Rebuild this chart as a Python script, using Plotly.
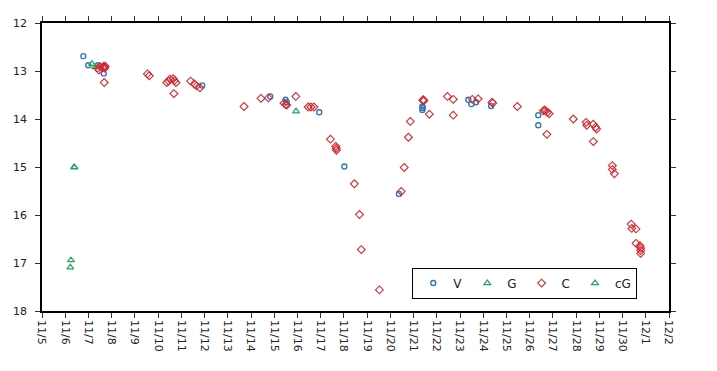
import plotly.graph_objects as go

# x = day of November (Dec 1 = 31), y = magnitude
v_x = [6.78, 6.99, 7.40, 7.66, 11.90, 14.83, 15.49, 15.54, 16.94, 18.02, 20.37,
       21.38, 21.38, 21.40, 23.36, 23.49, 23.69, 24.34, 26.37, 26.37]
v_y = [12.69, 12.88, 12.88, 13.05, 13.30, 13.53, 13.60, 13.65, 13.86, 14.99, 15.56,
       13.74, 13.81, 13.77, 13.60, 13.69, 13.65, 13.73, 13.92, 14.13]

g_x = [7.15, 7.28, 15.94]
g_y = [12.85, 12.92, 13.84]

c_x = [7.40, 7.45, 7.50, 7.62, 7.66, 7.68, 7.70, 7.72, 7.68,
       9.54, 9.62, 10.37, 10.45, 10.51, 10.65, 10.70, 10.77, 10.68,
       11.40, 11.56, 11.66, 11.80, 13.70, 14.43, 14.75, 15.42, 15.50, 15.54,
       15.93, 16.46, 16.58, 16.71, 17.42, 17.65, 17.67, 17.68,
       18.45, 18.67, 18.75, 19.53, 20.47, 20.60, 20.78, 20.86,
       21.40, 21.42, 21.44, 21.68, 22.46, 22.71, 22.71, 23.53, 23.78,
       24.38, 24.41, 25.47, 26.59, 26.64, 26.69, 26.76, 26.84, 26.74,
       27.88, 28.43, 28.46, 28.74, 28.84, 28.88, 28.74,
       29.56, 29.56, 29.65, 30.37, 30.40, 30.58, 30.58, 30.75, 30.78, 30.78, 30.78]
c_y = [12.94, 12.98, 12.91, 12.93, 12.90, 12.92, 12.94, 12.90, 13.24,
       13.06, 13.10, 13.24, 13.21, 13.17, 13.16, 13.20, 13.24, 13.47,
       13.21, 13.27, 13.31, 13.35, 13.74, 13.57, 13.56, 13.67, 13.70, 13.71,
       13.53, 13.75, 13.75, 13.75, 14.42, 14.57, 14.61, 14.65,
       15.35, 15.99, 16.72, 17.56, 15.51, 15.01, 14.38, 14.05,
       13.61, 13.60, 13.62, 13.90, 13.53, 13.59, 13.92, 13.59, 13.58,
       13.65, 13.67, 13.74, 13.83, 13.81, 13.83, 13.86, 13.89, 14.32,
       14.00, 14.07, 14.13, 14.11, 14.17, 14.21, 14.47,
       14.97, 15.05, 15.14, 16.19, 16.28, 16.29, 16.59, 16.64, 16.69, 16.74, 16.80]

cg_x = [6.38, 6.40, 6.25, 6.22]
cg_y = [15.00, 15.01, 16.94, 17.09]

tick_vals = list(range(5, 33))
tick_text = ["11/%d" % d for d in range(5, 31)] + ["12/1", "12/2"]

BLUE = "#2E78BC"
GREEN = "#1EA85F"
RED = "#D22B33"

fig = go.Figure()
fig.add_trace(go.Scatter(x=v_x, y=v_y, mode="markers", name="V",
                         marker=dict(symbol="circle-open", size=5, color=BLUE,
                                     line=dict(width=1.4, color=BLUE))))
fig.add_trace(go.Scatter(x=g_x, y=g_y, mode="markers", name="G",
                         marker=dict(symbol="triangle-up-open", size=6, color=GREEN,
                                     line=dict(width=1.2, color=GREEN))))
fig.add_trace(go.Scatter(x=c_x, y=c_y, mode="markers", name="C",
                         marker=dict(symbol="diamond-open", size=6, color=RED,
                                     line=dict(width=1.1, color=RED))))
fig.add_trace(go.Scatter(x=cg_x, y=cg_y, mode="markers", name="cG",
                         marker=dict(symbol="triangle-up-open", size=6, color=GREEN,
                                     line=dict(width=1.2, color=GREEN))))

# page body has an 8px margin, so the figure is sized to fit the window
fig.update_layout(
    width=709, height=363,
    margin=dict(l=34, r=48, t=15, b=60, autoexpand=False),
    paper_bgcolor="white", plot_bgcolor="white",
    font=dict(family="DejaVu Sans", size=11, color="#222"),
    showlegend=True,
    legend=dict(orientation="h", x=0.77, y=0.097, xanchor="center", yanchor="middle",
                bordercolor="black", borderwidth=1, bgcolor="white",
                font=dict(size=12), itemwidth=30, tracegroupgap=0),
)
fig.update_xaxes(range=[5, 32], tickvals=tick_vals, ticktext=tick_text,
                 tickangle=90, showgrid=False, zeroline=False, automargin=False,
                 showline=True, linecolor="black", linewidth=1.5, mirror="ticks",
                 ticks="outside", ticklen=5, tickcolor="#333", tickwidth=1)
fig.update_yaxes(range=[18, 12], tickvals=[12, 13, 14, 15, 16, 17, 18],
                 showgrid=False, zeroline=False, automargin=False,
                 showline=True, linecolor="black", linewidth=1.5, mirror="ticks",
                 ticks="outside", ticklen=5, tickcolor="#333", tickwidth=1,
                 ticklabelstandoff=6)

fig.write_html("out.html")
